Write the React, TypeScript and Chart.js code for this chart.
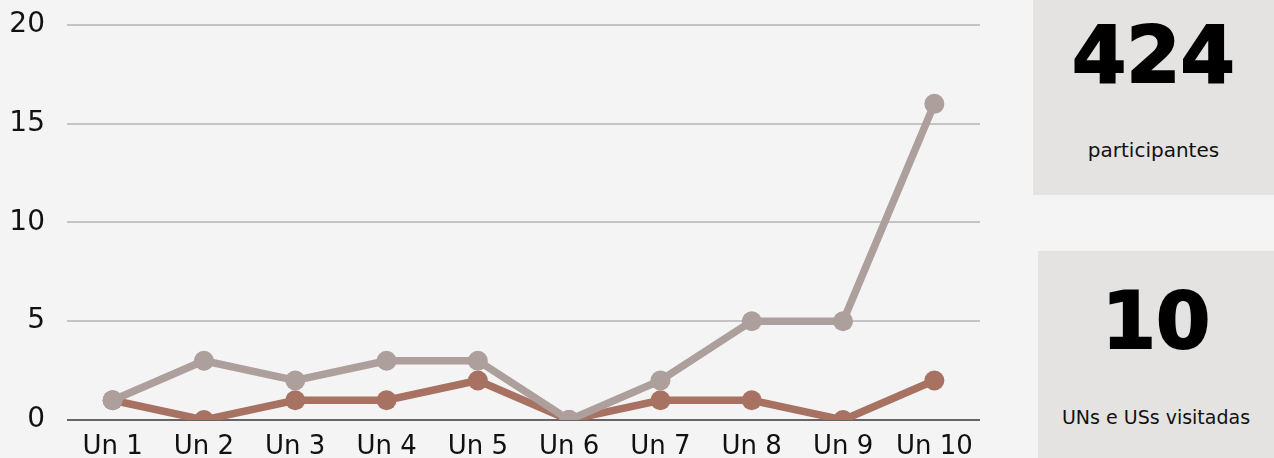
import React, { useEffect, useRef } from "react";
import { Chart, registerables } from "chart.js";

Chart.register(...registerables);

const categories = ["Un 1", "Un 2", "Un 3", "Un 4", "Un 5", "Un 6", "Un 7", "Un 8", "Un 9", "Un 10"];
const seriesGrey = [1, 3, 2, 3, 3, 0, 2, 5, 5, 16];
const seriesBrown = [1, 0, 1, 1, 2, 0, 1, 1, 0, 2];
const yTicks = [0, 5, 10, 15, 20];
const statParticipants = "424";
const statParticipantsLabel = "participantes";
const statVisited = "10";
const statVisitedLabel = "UNs e USs visitadas";

const FONT = "'DejaVu Sans', sans-serif";

export default function App() {
  const ref = useRef<HTMLCanvasElement>(null);

  useEffect(() => {
    document.body.style.margin = "0";
    const ctx = ref.current!;
    const chart = new Chart(ctx, {
      type: "line",
      data: {
        labels: categories,
        datasets: [
          {
            data: seriesGrey,
            borderColor: "#ad9f9c",
            backgroundColor: "#ad9f9c",
            pointBackgroundColor: "#ad9f9c",
            pointBorderWidth: 0,
            borderWidth: 7.5,
            pointRadius: 10,
            tension: 0,
          },
          {
            data: seriesBrown,
            borderColor: "#a87262",
            backgroundColor: "#a87262",
            pointBackgroundColor: "#a87262",
            pointBorderWidth: 0,
            borderWidth: 7.5,
            pointRadius: 10,
            tension: 0,
          },
        ],
      },
      options: {
        animation: false,
        responsive: false,
        maintainAspectRatio: false,
        layout: { padding: { top: 10, right: 9, left: 0, bottom: 0 } },
        plugins: { legend: { display: false }, tooltip: { enabled: false } },
        scales: {
          x: {
            offset: true,
            grid: { display: false, drawTicks: false },
            border: { display: false },
            ticks: { color: "#111", font: { family: FONT, size: 26 }, padding: 12, maxRotation: 0, autoSkip: false },
            afterFit: (s: any) => {
              s.height = 60;
            },
          },
          y: {
            min: 0,
            max: 20,
            afterBuildTicks: (s: any) => {
              s.ticks = yTicks.map((v) => ({ value: v }));
            },
            grid: {
              drawTicks: false,
              lineWidth: 2,
              color: (c: any) => (c.tick && c.tick.value === 0 ? "#666666" : "#c4c4c4"),
            },
            border: { display: false },
            ticks: { color: "#111", font: { family: FONT, size: 28 }, padding: 22 },
            afterFit: (s: any) => {
              s.width = 67;
            },
          },
        },
      },
    });
    return () => chart.destroy();
  }, []);

  const box: React.CSSProperties = {
    position: "absolute",
    background: "#e4e3e2",
    display: "flex",
    flexDirection: "column",
    alignItems: "center",
    fontFamily: FONT,
    color: "#000",
  };

  return (
    <div style={{ position: "relative", width: 1274, height: 458, background: "#f4f4f4", overflow: "hidden" }}>
      <canvas ref={ref} width={990} height={494} style={{ position: "absolute", left: 0, top: -14, width: 990, height: 494 }} />
      <div style={{ ...box, left: 1033, top: 0, width: 241, height: 195 }}>
        <div style={{ fontSize: 78, fontWeight: 700, lineHeight: "78px", marginTop: 16, WebkitTextStroke: "2px #000" }}>{statParticipants}</div>
        <div style={{ fontSize: 20, marginTop: 44, color: "#111" }}>{statParticipantsLabel}</div>
      </div>
      <div style={{ ...box, left: 1038, top: 251, width: 236, height: 207 }}>
        <div style={{ fontSize: 78, fontWeight: 700, lineHeight: "78px", marginTop: 31, WebkitTextStroke: "2px #000" }}>{statVisited}</div>
        <div style={{ fontSize: 19, marginTop: 46, color: "#111" }}>{statVisitedLabel}</div>
      </div>
    </div>
  );
}
